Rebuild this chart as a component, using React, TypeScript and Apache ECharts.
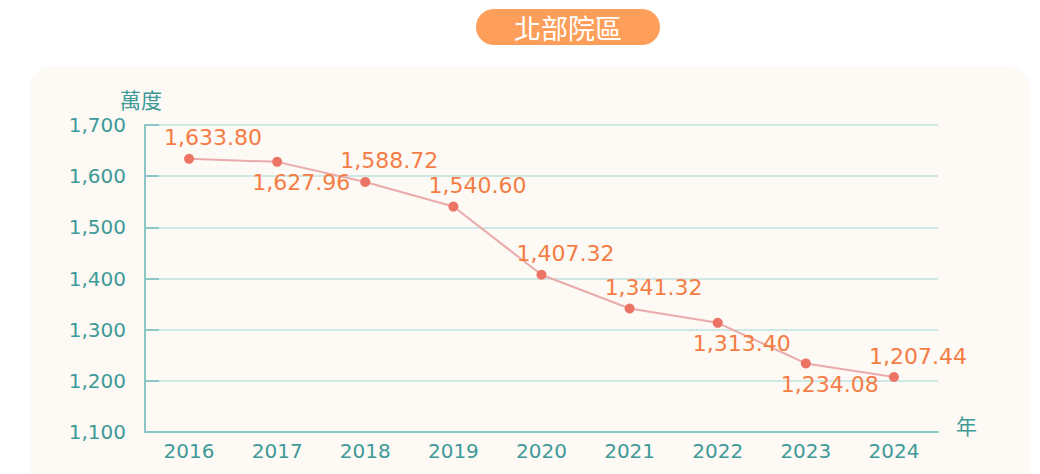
import React, { useEffect, useRef } from "react";
import * as echarts from "echarts";

const years = ["2016", "2017", "2018", "2019", "2020", "2021", "2022", "2023", "2024"];
const values = [1633.8, 1627.96, 1588.72, 1540.6, 1407.32, 1341.32, 1313.4, 1234.08, 1207.44];
const labelPositions = ["top", "bottom", "top", "top", "top", "top", "bottom", "bottom", "top"];
const title = "北部院區";
const yName = "萬度";
const xName = "年";

const fmt = (v: number) =>
  v.toLocaleString("en-US", { minimumFractionDigits: 2, maximumFractionDigits: 2 });

export default function App() {
  const ref = useRef<HTMLDivElement>(null);
  useEffect(() => {
    if (!ref.current) return;
    const chart = echarts.init(ref.current, null, { renderer: "svg" });
    const teal = "#3d9a98";
    chart.setOption({
      animation: false,
      backgroundColor: "#ffffff",
      textStyle: { fontFamily: "DejaVu Sans, sans-serif" },
      graphic: [
        {
          type: "rect",
          z: -10,
          shape: { x: 30, y: 67, width: 1000, height: 440, r: 20 },
          style: { fill: "#fdf9f4" },
        },
        {
          type: "rect",
          shape: { x: 476, y: 9, width: 184, height: 36, r: 18 },
          style: { fill: "#fd9f5a" },
        },
        {
          type: "text",
          x: 568,
          y: 27,
          style: {
            text: title,
            fill: "#ffffff",
            fontSize: 27,
            align: "center",
            verticalAlign: "middle",
            fontFamily: "Noto Sans CJK TC",
          },
        },
      ],
      grid: { left: 145, right: 102, top: 125, bottom: 42 },
      xAxis: {
        type: "category",
        data: years,
        boundaryGap: true,
        name: xName,
        nameGap: 18,
        nameTextStyle: {
          color: teal,
          fontSize: 21,
          verticalAlign: "bottom",
          lineHeight: 14,
          fontFamily: "Noto Sans CJK TC",
        },
        axisLine: { lineStyle: { color: "#8cc7c5", width: 2 } },
        axisTick: { inside: true, length: 10, lineStyle: { color: "#8cc7c5", width: 2 } },
        axisLabel: { color: teal, fontSize: 20, margin: 9, fontFamily: "DejaVu Sans" },
      },
      yAxis: {
        type: "value",
        min: 1100,
        max: 1700,
        interval: 100,
        name: yName,
        nameGap: 14,
        nameTextStyle: {
          color: teal,
          fontSize: 21,
          align: "center",
          padding: [0, 8, 2, 0],
          fontFamily: "Noto Sans CJK TC",
        },
        axisLine: { show: true, lineStyle: { color: "#8cc7c5", width: 2 } },
        axisTick: { show: true, inside: true, length: 14, lineStyle: { color: "#8cc7c5", width: 2 } },
        axisLabel: {
          color: teal,
          fontSize: 20,
          margin: 19,
          fontFamily: "DejaVu Sans",
          formatter: (v: number) => v.toLocaleString("en-US"),
        },
        splitLine: { lineStyle: { color: "#cfe7e5", width: 2 } },
      },
      series: [
        {
          type: "line",
          data: values.map((v, i) => ({
            value: v,
            label: { position: labelPositions[i] },
          })),
          symbol: "circle",
          symbolSize: 10,
          itemStyle: { color: "#ec7465" },
          lineStyle: { color: "#e9abab", width: 2 },
          label: {
            show: true,
            color: "#f47d45",
            fontSize: 22,
            distance: 5,
            offset: [24, 0],
            fontFamily: "DejaVu Sans",
            formatter: (p: any) => fmt(p.value),
          },
        },
      ],
    });
    return () => chart.dispose();
  }, []);
  return (
    <div
      ref={ref}
      style={{ position: "fixed", left: 0, top: 0, width: 1040, height: 474 }}
    />
  );
}
